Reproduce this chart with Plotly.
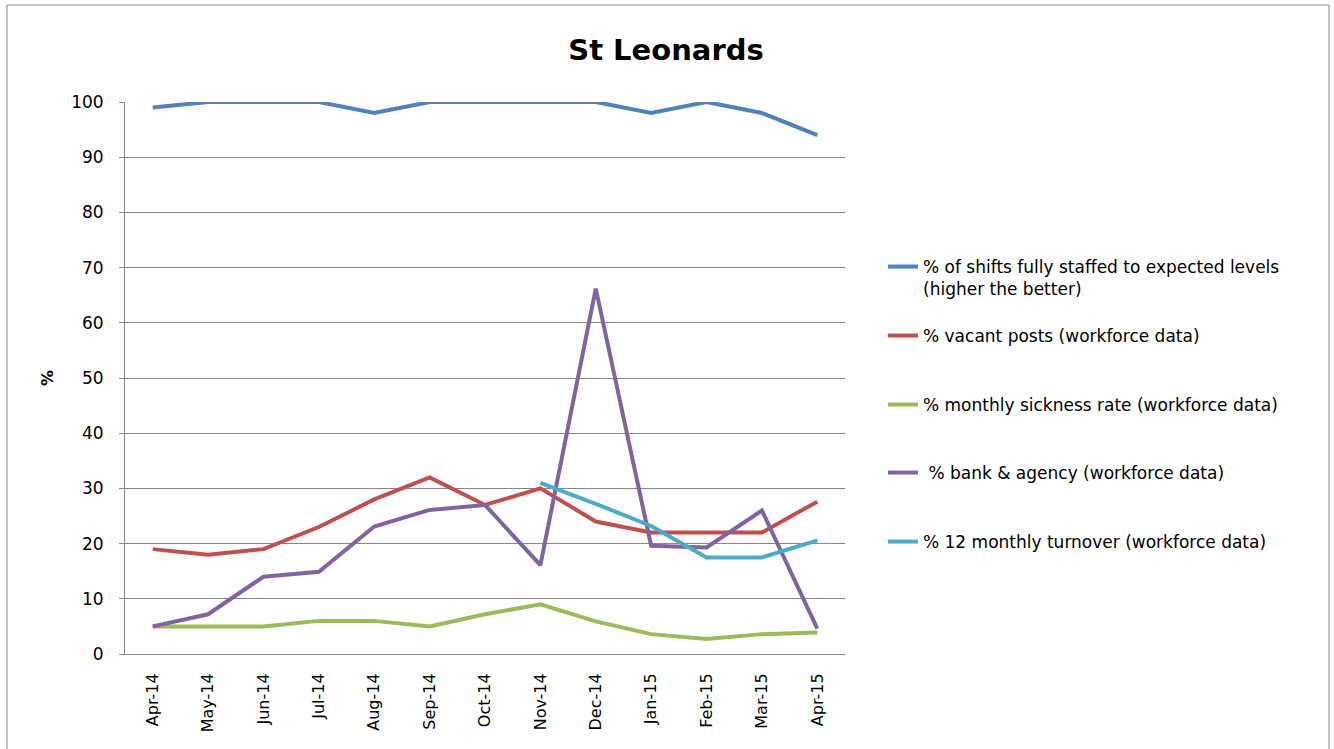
import plotly.graph_objects as go

months = ["Apr-14", "May-14", "Jun-14", "Jul-14", "Aug-14", "Sep-14", "Oct-14",
          "Nov-14", "Dec-14", "Jan-15", "Feb-15", "Mar-15", "Apr-15"]

shifts_staffed = [99, 100, 100, 100, 98, 100, 100, 100, 100, 98, 100, 98, 94]
vacant_posts = [19, 18, 19, 23, 28, 32, 27, 30, 24, 22, 22, 22, 27.6]
sickness_rate = [5, 5, 5, 6, 6, 5, 7.2, 9, 5.9, 3.6, 2.7, 3.6, 3.9]
bank_agency = [5, 7.2, 14, 14.9, 23.1, 26.1, 27, 16.1, 66.2, 19.6, 19.3, 26, 4.6]
turnover = [None, None, None, None, None, None, None, 31, 27.2, 23.2, 17.5, 17.5, 20.6]

series_names = [
    "% of shifts fully staffed to expected levels<br>(higher the better)",
    "% vacant posts (workforce data)",
    "% monthly sickness rate (workforce data)",
    " % bank & agency (workforce data)",
    "% 12 monthly turnover (workforce data)",
]
series_values = [shifts_staffed, vacant_posts, sickness_rate, bank_agency, turnover]
series_colors = ["#4F81BD", "#C0504D", "#9BBB59", "#8064A2", "#4BACC6"]

FONT = "DejaVu Sans"
GRID = "#868686"

# plot area in pixels
L, R, T, B = 125, 845, 102, 654
W, H = 1334, 749
pw, ph = R - L, B - T


def px_x(x):
    return (x - L) / pw


def px_y(y):
    return (B - y) / ph


fig = go.Figure()
legend_ids = ["legend", "legend2", "legend3", "legend4", "legend5"]
legend_centres = [264, 333, 402, 470, 539]

for name, vals, col, lid in zip(series_names, series_values, series_colors, legend_ids):
    fig.add_trace(go.Scatter(
        x=months, y=vals, name=name, mode="lines",
        line=dict(color=col, width=4),
        connectgaps=False, legend=lid,
    ))

legend_common = dict(
    font=dict(family=FONT, size=17, color="#000000"),
    bgcolor="rgba(0,0,0,0)", borderwidth=0,
    xanchor="left", x=px_x(883), valign="top",
)
layout_legends = {}
for lid, cy in zip(legend_ids, legend_centres):
    layout_legends[lid] = dict(legend_common, yanchor="top", y=px_y(cy - 15))

fig.update_layout(
    width=W, height=H,
    margin=dict(l=L, r=W - R, t=T, b=H - B),
    paper_bgcolor="white", plot_bgcolor="white",
    showlegend=True,
    title=dict(
        text="<b>St Leonards</b>",
        font=dict(family=FONT, size=29, color="#000000"),
        x=666 / W, xanchor="center", xref="container",
        y=1 - 50 / H, yanchor="middle", yref="container",
    ),
    xaxis=dict(
        type="category", range=[-0.5, 12.5],
        showline=True, linecolor=GRID, linewidth=1,
        showgrid=False, ticks="", tickangle=-90,
        ticklabelstandoff=12,
        tickfont=dict(family=FONT, size=16, color="#000000"),
        zeroline=False,
    ),
    yaxis=dict(
        range=[0, 100], dtick=10, tick0=0,
        showline=True, linecolor=GRID, linewidth=1,
        showgrid=True, gridcolor=GRID, gridwidth=1,
        ticks="outside", ticklen=5, tickcolor=GRID,
        ticklabelstandoff=12,
        tickfont=dict(family=FONT, size=17, color="#000000"),
        zeroline=False,
    ),
    annotations=[dict(
        text="<b>%</b>", textangle=-90, showarrow=False,
        xref="paper", yref="paper", x=px_x(47), y=px_y(378),
        xanchor="center", yanchor="middle",
        font=dict(family=FONT, size=16, color="#000000"),
    )],
    shapes=[dict(
        type="rect", xref="paper", yref="paper",
        x0=px_x(7), x1=px_x(1329), y0=px_y(752), y1=px_y(5),
        line=dict(color=GRID, width=1), fillcolor="rgba(0,0,0,0)", layer="below",
    )],
    **layout_legends,
)

fig.write_html("out.html")
